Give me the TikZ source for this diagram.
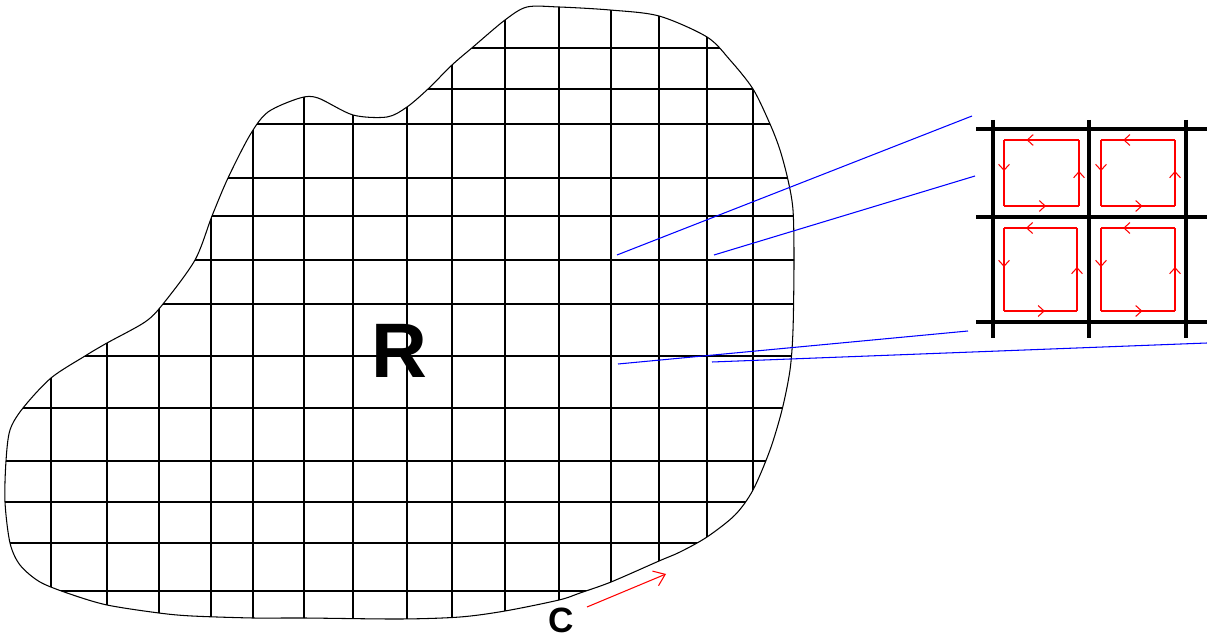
\documentclass[tikz,border=0pt]{standalone}
\usepackage{fontspec}
\setmainfont{Liberation Sans}
\usetikzlibrary{arrows.meta,decorations.markings}
\begin{document}
\begin{tikzpicture}[x=0.02cm,y=-0.02cm,
  gridline/.style={line width=0.75pt,black},
  outline/.style={line width=0.6pt,black},
  zoomline/.style={line width=0.6pt,blue},
  thickline/.style={line width=1.8pt,black},
  circ/.style={red,line width=0.6pt,postaction={decorate},
    decoration={markings,mark=at position #1 with {\arrow{Straight Barb[length=3.4pt,width=6.2pt]}}}},
  lbl/.style={inner sep=0pt,font=\bfseries}
]
\useasboundingbox (0,0) rectangle (1207,638);
% grid clipped to the region
\begin{scope}
\clip plot[smooth cycle] coordinates {(527,7) (559,7) (610,10) (659,16) (707,37) (730,60) (753,89) (770,124) (780,150) (788,180) (793,210) (794,260) (793,330) (790,370) (782,410) (770,450) (753,490) (735,515) (707,537) (680,552) (659,561) (611,582) (580,593) (559,600) (505,611) (460,617) (400,619) (304,618) (253,618) (192,616) (159,613) (107,605) (70,594) (40,582) (20,565) (10,543) (5,502) (6,461) (10,430) (23,408) (51,378) (85,356) (107,343) (145,322) (163,304) (195,260) (212,216) (228,178) (250,135) (268,112) (300,98) (318,98) (353,115) (387,117) (407,107) (428,89) (452,65) (473,47) (505,20)};
\foreach \y in {48,89,124,178,216,260,304,356,408,461,502,543,591}
  \draw[gridline] (0,\y) -- (820,\y);
\foreach \x in {51,107,159,211,253,304,353,407,452,505,559,611,659,707,753}
  \draw[gridline] (\x,0) -- (\x,638);
\end{scope}
\draw[outline] plot[smooth cycle] coordinates {(527,7) (559,7) (610,10) (659,16) (707,37) (730,60) (753,89) (770,124) (780,150) (788,180) (793,210) (794,260) (793,330) (790,370) (782,410) (770,450) (753,490) (735,515) (707,537) (680,552) (659,561) (611,582) (580,593) (559,600) (505,611) (460,617) (400,619) (304,618) (253,618) (192,616) (159,613) (107,605) (70,594) (40,582) (20,565) (10,543) (5,502) (6,461) (10,430) (23,408) (51,378) (85,356) (107,343) (145,322) (163,304) (195,260) (212,216) (228,178) (250,135) (268,112) (300,98) (318,98) (353,115) (387,117) (407,107) (428,89) (452,65) (473,47) (505,20)};
% labels
\node[lbl,font=\fontsize{44}{44}\selectfont\bfseries] (R) at (399,351) {R};
\node[lbl,font=\fontsize{20}{20}\selectfont\bfseries] (C) at (561,620) {C};
\coordinate (c1) at (587,607);
\coordinate (c2) at (666,574);
\draw[red,line width=0.6pt,-{Straight Barb[length=6pt,width=9pt]}] (c1) -- (c2);
% zoom lines
\coordinate (a1) at (617,255); \coordinate (b1) at (972,116);
\coordinate (a2) at (714,255); \coordinate (b2) at (975,176);
\coordinate (a3) at (618,364); \coordinate (b3) at (968,331);
\coordinate (a4) at (712,362); \coordinate (b4) at (1207,343);
\draw[zoomline] (a1) -- (b1);
\draw[zoomline] (a2) -- (b2);
\draw[zoomline] (a3) -- (b3);
\draw[zoomline] (a4) -- (b4);
% inset grid
\foreach \y in {129,217,322}
  \draw[thickline] (976,\y) -- (1207,\y);
\foreach \x in {993,1089,1186}
  \draw[thickline] (\x,120) -- (\x,338);
% circulation loops
\foreach \xa/\xb/\ya/\yb in {1004/1079/140/206, 1101/1175/140/206, 1004/1077/228/311, 1101/1175/228/311}{
  \draw[circ=0.7] (\xb,\ya) -- (\xa,\ya);
  \draw[circ=0.47] (\xa,\ya) -- (\xa,\yb);
  \draw[circ=0.56] (\xa,\yb) -- (\xb,\yb);
  \draw[circ=0.53] (\xb,\yb) -- (\xb,\ya);
}
\end{tikzpicture}
\end{document}
